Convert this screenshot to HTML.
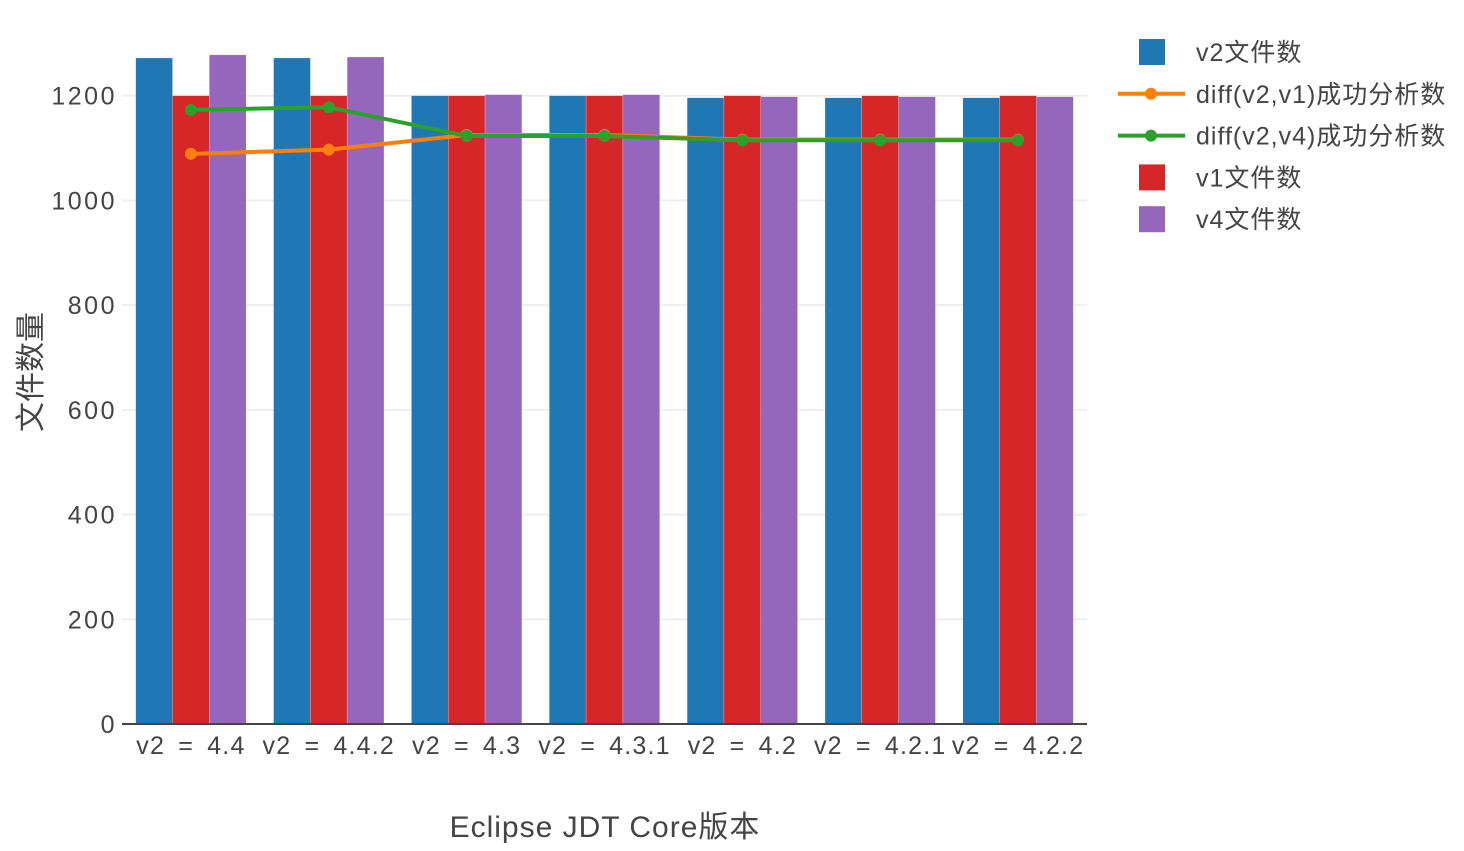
<!DOCTYPE html>
<html><head><meta charset="utf-8"><style>
body{margin:0;background:#fff;width:1464px;height:846px;overflow:hidden}
svg text{font-family:"Liberation Sans","Noto Sans CJK SC",sans-serif;fill:#444}
</style></head><body>
<svg id="chart" width="1464" height="846"></svg>
<script>
const categories=["v2 = 4.4","v2 = 4.4.2","v2 = 4.3","v2 = 4.3.1","v2 = 4.2","v2 = 4.2.1","v2 = 4.2.2"];
const v2Files=[1272,1272,1200,1200,1196,1196,1196];
const v1Files=[1200,1200,1200,1200,1200,1200,1200];
const v4Files=[1278,1274,1202,1202,1198,1198,1198];
const diffV1=[1089,1097,1125,1125,1116,1116,1116];
const diffV4=[1173,1178,1123,1123,1115,1115,1115];
const yTicks=[0,200,400,600,800,1000,1200];
const NS="http://www.w3.org/2000/svg";
const svg=document.getElementById('chart');
const X0=122,X1=1087,Y0=724,YS=(724-95.7)/1200;
const cw=(X1-X0)/categories.length;
const xc=i=>X0+cw*(i+0.5);
const y=v=>Y0-v*YS;
function mk(t,a,p){const e=document.createElementNS(NS,t);for(const k in a)e.setAttribute(k,a[k]);(p||svg).appendChild(e);return e;}
yTicks.forEach(t=>{
 if(t>0){const g=mk('line',{x1:X0,x2:X1,y1:y(t),y2:y(t),stroke:'#eee','stroke-width':2});
 
 }
 const l=mk('text',{x:117,y:y(t)+9,'text-anchor':'end','font-size':25,'letter-spacing':2.5});l.textContent=t;
 
 
});
const bw=36.8;
const series=[[v2Files,'#1f77b4','v2'],[v1Files,'#d62728','v1'],[v4Files,'#9467bd','v4']];
categories.forEach((c,i)=>{
 series.forEach((s,j)=>{
  const v=s[0][i];
  const r=mk('rect',{x:xc(i)+(j-1.5)*bw,y:y(v),width:bw,height:Y0-y(v),fill:s[1],stroke:'rgba(255,255,255,0.4)','stroke-width':0.5});
  
  
 });
 const t=mk('text',{x:xc(i),y:754,'text-anchor':'middle','font-size':25,'letter-spacing':1.2,'word-spacing':5});t.textContent=c;
 
 
});
const ax=mk('line',{x1:X0,x2:X1,y1:Y0,y2:Y0,stroke:'#444','stroke-width':2});


[[diffV1,'#ff7f0e','diff-v1'],[diffV4,'#2ca02c','diff-v4']].forEach(s=>{
 const p=mk('polyline',{points:s[0].map((v,i)=>xc(i)+','+y(v)).join(' '),fill:'none',stroke:s[1],'stroke-width':4});
 
 
 s[0].forEach((v,i)=>{const c=mk('circle',{cx:xc(i),cy:y(v),r:6,fill:s[1]});
 
 });
});
const xt=mk('text',{x:605,y:837,'text-anchor':'middle','font-size':30,'letter-spacing':1});xt.textContent='Eclipse JDT Core版本';


const yt=mk('text',{x:0,y:0,'text-anchor':'middle','font-size':30,transform:'translate(41,372) rotate(-90)'});yt.textContent='文件数量';


const legend=[['v2文件数','#1f77b4','bar'],['diff(v2,v1)成功分析数','#ff7f0e','line'],['diff(v2,v4)成功分析数','#2ca02c','line'],['v1文件数','#d62728','bar'],['v4文件数','#9467bd','bar']];
legend.forEach((l,i)=>{
 const ly=52+i*41.8;
 const g=mk('g',{});
 
 
 if(l[2]=='bar')mk('rect',{x:1139,y:ly-13,width:26,height:26,fill:l[1]},g);
 else{mk('line',{x1:1118,x2:1185,y1:ly,y2:ly,stroke:l[1],'stroke-width':4},g);mk('circle',{cx:1151,cy:ly,r:6,fill:l[1]},g);}
 const t=mk('text',{x:1196,y:ly+9,'font-size':25,'letter-spacing':1},g);t.textContent=l[0];
});
</script>
</body></html>
